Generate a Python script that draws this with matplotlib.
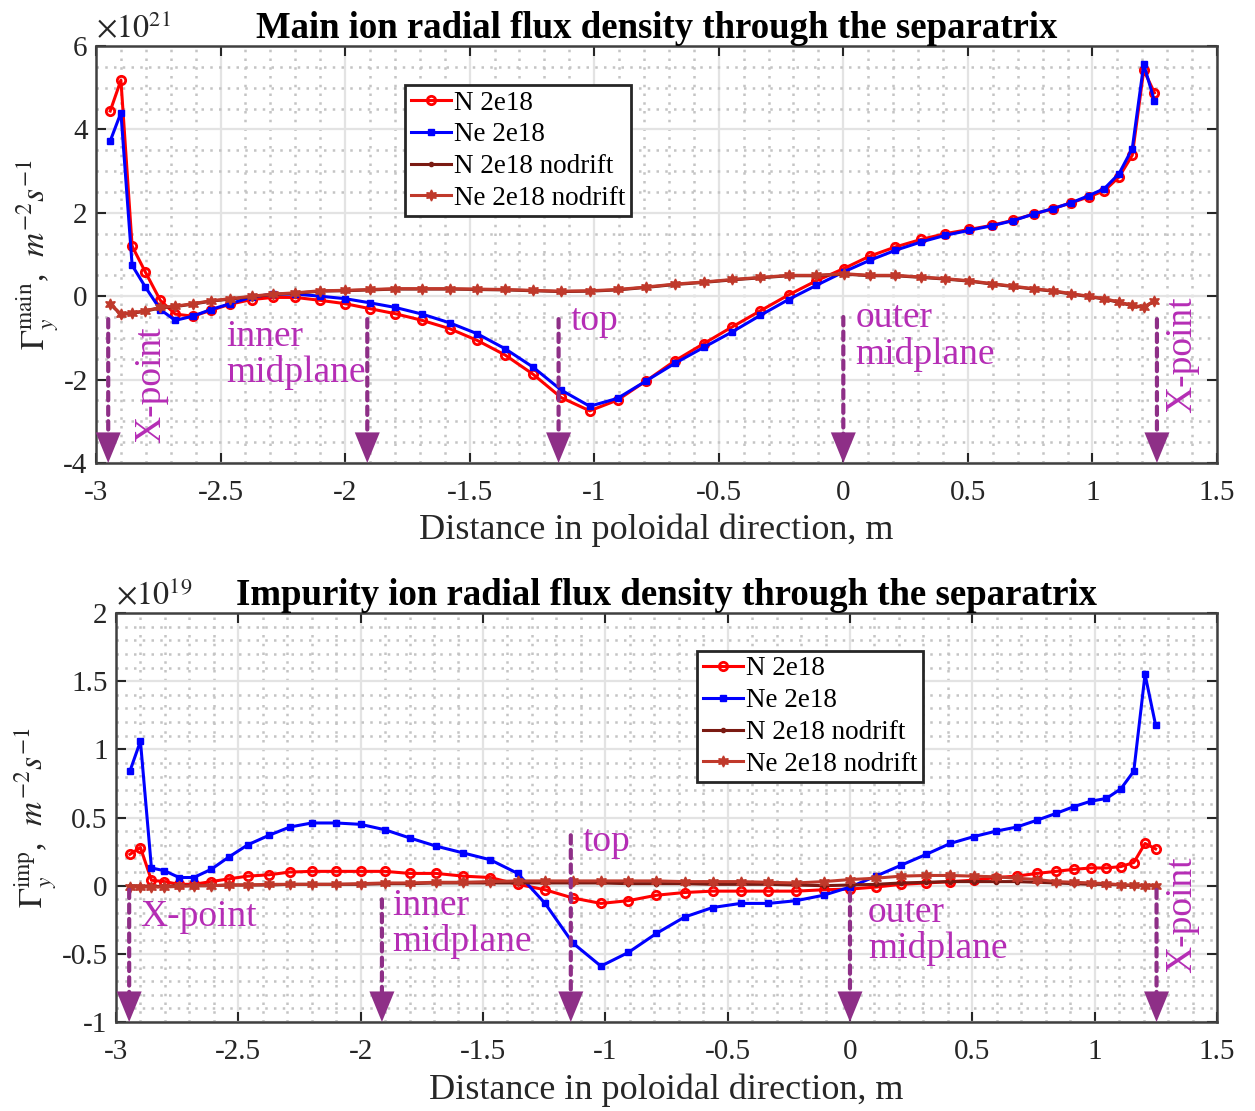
import numpy as np
import matplotlib
matplotlib.use('Agg')
import matplotlib.pyplot as plt
from matplotlib.ticker import MultipleLocator, FormatStrFormatter

plt.rcParams['font.family'] = ['Liberation Serif', 'DejaVu Serif']
plt.rcParams['mathtext.fontset'] = 'stix'
plt.rcParams['axes.unicode_minus'] = False

# poloidal distance of the cell centres along the separatrix, m
x_pol = [-2.943, -2.900, -2.855, -2.802, -2.742, -2.682, -2.611, -2.539, -2.461, -2.374,
         -2.290, -2.200, -2.100, -2.000, -1.900, -1.799, -1.691, -1.580, -1.470, -1.358,
         -1.246, -1.133, -1.018, -0.906, -0.791, -0.676, -0.561, -0.447, -0.333, -0.220,
         -0.108, 0.001, 0.106, 0.209, 0.312, 0.410, 0.506, 0.597, 0.681, 0.764,
         0.842, 0.915, 0.985, 1.048, 1.107, 1.160, 1.206, 1.249]

# main ion flux, units of 1e21 m^-2 s^-1
main_N = [4.44, 5.18, 1.20, 0.58, -0.10, -0.43, -0.48, -0.34, -0.19, -0.08,
          -0.03, -0.03, -0.10, -0.18, -0.30, -0.42, -0.58, -0.78, -1.06, -1.41,
          -1.87, -2.43, -2.75, -2.49, -2.03, -1.55, -1.14, -0.74, -0.35, 0.03,
          0.37, 0.66, 0.96, 1.18, 1.36, 1.50, 1.60, 1.70, 1.82, 1.97,
          2.10, 2.24, 2.38, 2.53, 2.86, 3.38, 5.42, 4.88]
main_Ne = [3.72, 4.40, 0.74, 0.22, -0.32, -0.58, -0.48, -0.32, -0.18, -0.02,
           0.05, 0.05, 0.00, -0.06, -0.16, -0.27, -0.43, -0.64, -0.90, -1.26,
           -1.70, -2.25, -2.64, -2.45, -2.03, -1.61, -1.23, -0.86, -0.46, -0.08,
           0.26, 0.58, 0.86, 1.10, 1.30, 1.46, 1.58, 1.69, 1.81, 1.97,
           2.10, 2.24, 2.41, 2.58, 2.94, 3.54, 5.56, 4.68]
main_N_nd = [-0.19, -0.44, -0.41, -0.36, -0.28, -0.25, -0.19, -0.12, -0.07, -0.01,
             0.04, 0.07, 0.12, 0.13, 0.15, 0.17, 0.17, 0.17, 0.16, 0.15,
             0.13, 0.11, 0.12, 0.15, 0.21, 0.28, 0.33, 0.39, 0.44, 0.49,
             0.49, 0.53, 0.49, 0.49, 0.45, 0.41, 0.36, 0.29, 0.23, 0.17,
             0.12, 0.05, -0.01, -0.07, -0.15, -0.23, -0.27, -0.12]
main_Ne_nd = [-0.18, -0.43, -0.40, -0.35, -0.27, -0.24, -0.18, -0.11, -0.06, 0.00,
              0.05, 0.08, 0.13, 0.14, 0.16, 0.18, 0.18, 0.18, 0.17, 0.16,
              0.14, 0.12, 0.13, 0.16, 0.22, 0.29, 0.34, 0.40, 0.45, 0.50,
              0.50, 0.54, 0.50, 0.50, 0.46, 0.42, 0.37, 0.30, 0.24, 0.18,
              0.13, 0.06, 0.00, -0.06, -0.14, -0.22, -0.26, -0.11]

# impurity ion flux, units of 1e19 m^-2 s^-1
imp_N = [0.23, 0.28, 0.04, 0.03, 0.01, 0.01, 0.03, 0.05, 0.07, 0.08,
         0.10, 0.105, 0.105, 0.105, 0.105, 0.09, 0.09, 0.07, 0.06, 0.01,
         -0.03, -0.09, -0.13, -0.11, -0.07, -0.05, -0.04, -0.04, -0.04, -0.04,
         -0.03, -0.025, -0.01, 0.01, 0.02, 0.03, 0.04, 0.06, 0.07, 0.09,
         0.105, 0.12, 0.13, 0.13, 0.14, 0.17, 0.31, 0.27]
imp_Ne = [0.84, 1.06, 0.13, 0.11, 0.06, 0.06, 0.12, 0.21, 0.30, 0.37,
          0.43, 0.46, 0.46, 0.45, 0.41, 0.35, 0.29, 0.24, 0.19, 0.09,
          -0.13, -0.42, -0.59, -0.49, -0.35, -0.23, -0.16, -0.13, -0.13, -0.11,
          -0.07, -0.01, 0.07, 0.15, 0.23, 0.31, 0.36, 0.40, 0.43, 0.48,
          0.53, 0.58, 0.62, 0.64, 0.71, 0.84, 1.55, 1.18]
imp_N_nd = [0.0, -0.005, -0.005, -0.005, 0.0, 0.0, 0.0, 0.005, 0.005, 0.005,
            0.01, 0.01, 0.01, 0.01, 0.015, 0.015, 0.02, 0.02, 0.02, 0.02,
            0.02, 0.02, 0.02, 0.015, 0.015, 0.015, 0.01, 0.01, 0.01, 0.005,
            0.0, 0.005, 0.01, 0.02, 0.025, 0.03, 0.03, 0.03, 0.03, 0.025,
            0.02, 0.015, 0.01, 0.01, 0.005, 0.0, 0.0, 0.0]
imp_Ne_nd = [-0.01, -0.01, -0.01, -0.01, -0.005, 0.0, 0.0, 0.005, 0.005, 0.01,
             0.01, 0.01, 0.01, 0.015, 0.02, 0.02, 0.025, 0.025, 0.03, 0.035,
             0.035, 0.035, 0.035, 0.035, 0.035, 0.03, 0.03, 0.03, 0.025, 0.02,
             0.03, 0.045, 0.055, 0.07, 0.075, 0.075, 0.07, 0.065, 0.055, 0.045,
             0.03, 0.025, 0.02, 0.015, 0.007, 0.004, 0.0, 0.0]

labels = ['N 2e18', 'Ne 2e18', 'N 2e18 nodrift', 'Ne 2e18 nodrift']

# landmarks: (x, arrow start y, text, text x, text y, rotation, ha)
landmarks_main = [
    (-2.951, -0.55, 'X-point', -2.78, -2.13, 90, 'center'),
    (-1.911, -0.55, 'inner\nmidplane', -2.477, -1.41, 0, 'left'),
    (-1.143, -0.55, 'top', -1.096, -0.58, 0, 'left'),
    (0.0, -0.50, 'outer\nmidplane', 0.048, -0.96, 0, 'left'),
    (1.259, -0.55, 'X-point', 1.361, -1.41, 90, 'center'),
]
landmarks_imp = [
    (-2.946, -0.03, 'X-point', -2.902, -0.23, 0, 'left'),
    (-1.913, -0.10, 'inner\nmidplane', -1.872, -0.28, 0, 'left'),
    (-1.141, 0.37, 'top', -1.091, 0.32, 0, 'left'),
    (0.0, -0.05, 'outer\nmidplane', 0.074, -0.33, 0, 'left'),
    (1.253, -0.03, 'X-point', 1.357, -0.21, 90, 'center'),
]

arrow_col = '#8E2F87'
text_col = '#B52DB5'

fig = plt.figure(figsize=(12.55, 11.11), dpi=100)
ax1 = fig.add_axes([0.0765, 0.5833, 0.8932, 0.3753])
ax2 = fig.add_axes([0.0924, 0.0801, 0.8773, 0.3681])


def draw(ax, yN, yNe, yNnd, yNend, ylim, ymaj, ymin, exp, ylab, title, landmarks, leg_anchor):
    ax.plot(x_pol, yN, '-o', color='#FF0000', lw=2.2, ms=6, mfc='none', mew=2.0, label=labels[0])
    ax.plot(x_pol, yNe, '-s', color='#0000FF', lw=2.2, ms=5, label=labels[1])
    ax.plot(x_pol, yNnd, '-o', color='#7A1A12', lw=2.2, ms=3, label=labels[2])
    ax.plot(x_pol, yNend, '-', marker=(6, 1, 0), color='#C0392B', lw=2.2, ms=8, label=labels[3])

    ax.set_xlim(-3, 1.5)
    ax.set_ylim(*ylim)
    ax.xaxis.set_major_locator(MultipleLocator(0.5))
    ax.xaxis.set_minor_locator(MultipleLocator(0.1))
    ax.yaxis.set_major_locator(MultipleLocator(ymaj))
    ax.yaxis.set_minor_locator(MultipleLocator(ymin))
    ax.xaxis.set_major_formatter(FormatStrFormatter('%g'))
    ax.yaxis.set_major_formatter(FormatStrFormatter('%g'))
    ax.grid(True, which='major', color='#E3E3E3', lw=1.6, ls='-')
    ax.grid(True, which='minor', color='#C4C4C4', lw=1.8, ls=(0, (1, 2.5)))
    ax.set_axisbelow(True)
    ax.tick_params(which='major', direction='in', length=7, width=1.5, top=True, right=True,
                   labelsize=21, colors='#262626')
    ax.tick_params(axis='x', which='major', pad=12)
    ax.tick_params(axis='y', which='major', pad=6)
    ax.tick_params(which='minor', length=0)
    for s in ax.spines.values():
        s.set_color('#404040')
        s.set_linewidth(1.8)

    for xa, ys, txt, tx, ty, rot, ha in landmarks:
        # dashed shaft
        ax.annotate('', xy=(xa, ylim[0]), xytext=(xa, ys),
                    arrowprops=dict(arrowstyle='-', color=arrow_col, lw=3,
                                    ls=(0, (2, 1.5)), shrinkA=0, shrinkB=14))
        # solid head
        ax.annotate('', xy=(xa, ylim[0]), xytext=(0, 24), textcoords='offset points',
                    arrowprops=dict(arrowstyle='-|>,head_length=2.2,head_width=0.9',
                                    mutation_scale=10, fc=arrow_col, ec='none', lw=0,
                                    shrinkA=0, shrinkB=0))
        ax.text(tx, ty, txt, color=text_col, fontsize=27, rotation=rot, ha=ha, va='center',
                linespacing=1.05)

    leg = ax.legend(loc='upper left', bbox_to_anchor=leg_anchor, fontsize=19.5, frameon=True,
                    fancybox=False, framealpha=1, edgecolor='#262626', borderaxespad=0,
                    handlelength=1.5, handletextpad=0.1, labelspacing=0.25, borderpad=0.2)
    leg.get_frame().set_linewidth(2.0)

    ax.text(0.0, 1.005, r'$\times10^{%d}$' % exp, transform=ax.transAxes, ha='left',
            va='bottom', fontsize=23, color='#262626')
    ax.set_xlabel('Distance in poloidal direction, m', fontsize=26, color='#262626', labelpad=6)
    ax.set_ylabel(ylab, fontsize=24, color='#262626', labelpad=2)
    ax.set_title(title, fontsize=26.5, fontweight='bold', pad=6)


draw(ax1, main_N, main_Ne, main_N_nd, main_Ne_nd, (-4, 6), 2, 0.5, 21,
     r'$\Gamma_y^{\rm main}$,  $m^{-2}s^{-1}$',
     'Main ion radial flux density through the separatrix', landmarks_main, (0.276, 0.906))
draw(ax2, imp_N, imp_Ne, imp_N_nd, imp_Ne_nd, (-1, 2), 0.5, 0.1, 19,
     r'$\Gamma_y^{\rm imp}$,  $m^{-2}s^{-1}$',
     'Impurity ion radial flux density through the separatrix', landmarks_imp, (0.528, 0.907))

fig.savefig('out.png', dpi=100)
